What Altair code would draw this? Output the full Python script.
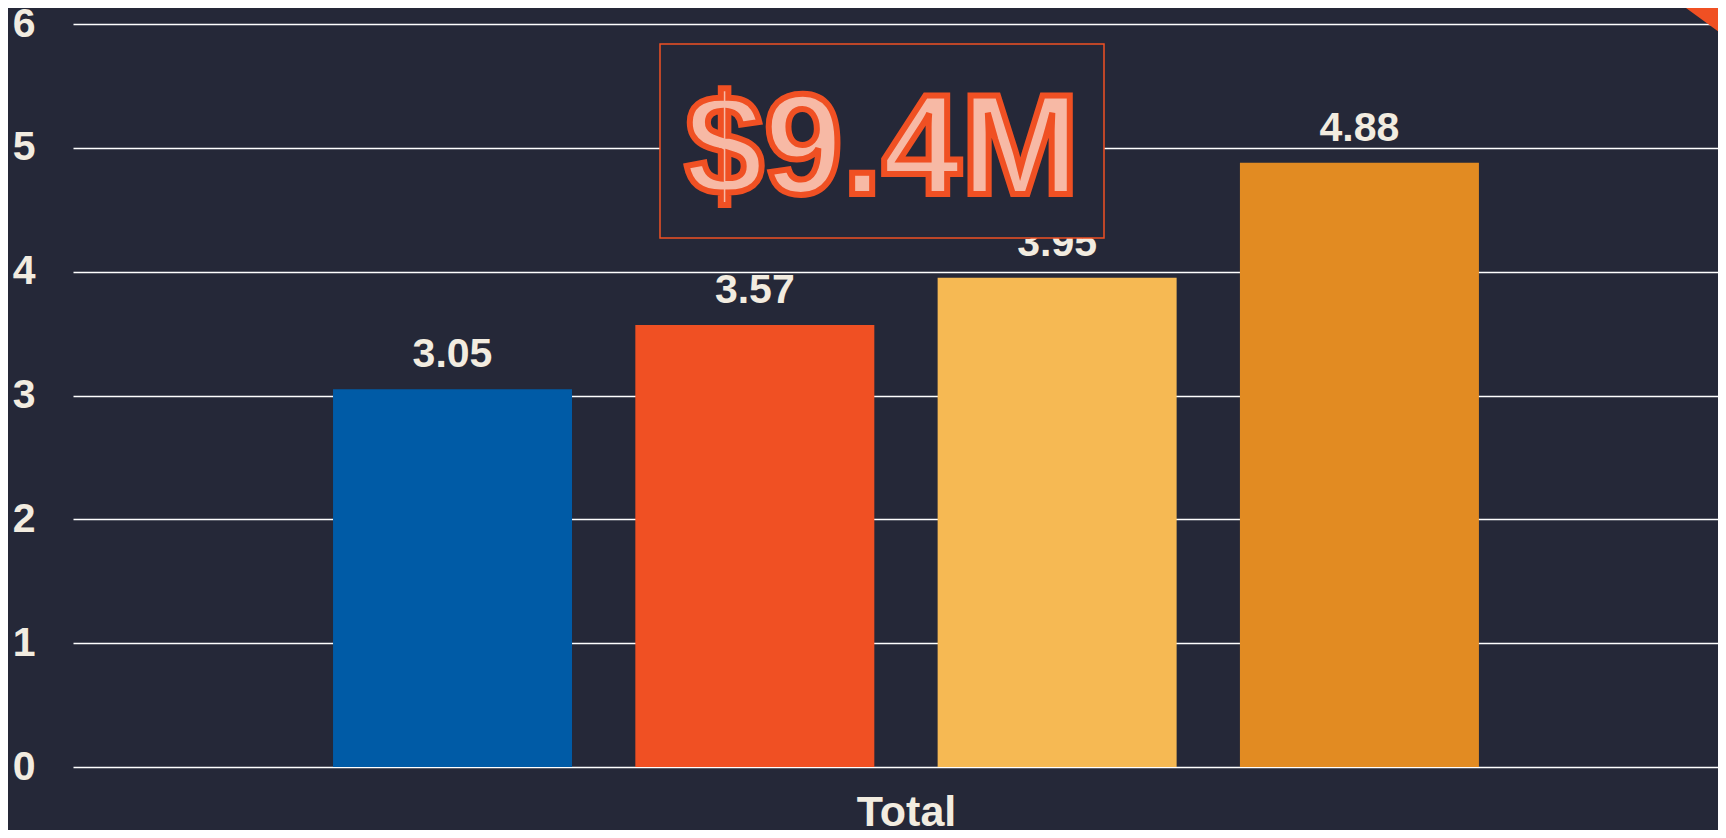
import altair as alt
import pandas as pd

categories = ["Total"]
series = ["Series 1", "Series 2", "Series 3", "Series 4"]
values = [3.05, 3.57, 3.95, 4.88]
colors = ["#005BA6", "#F05023", "#F6B953", "#E28B22"]
y_ticks = [0, 1, 2, 3, 4, 5, 6]
headline = ["$9.4M"]

BG = "#252838"
CREAM = "#F2ECE0"
ORANGE = "#F05023"
FONT = "Liberation Sans"

df = pd.DataFrame({
    "category": categories * len(series),
    "series": series,
    "value": values,
    "label": [f"{v:.2f}" for v in values],
})

x = alt.X(
    "category:N",
    scale=alt.Scale(paddingInner=0, paddingOuter=0, round=False),
    axis=alt.Axis(title=None, labelFontSize=43, labelFontWeight="bold", labelColor=CREAM,
                  labelPadding=58, labelBaseline="alphabetic", labelAngle=0, labelOffset=11,
                  domain=False, ticks=False, grid=False, labelFont=FONT),
)
xo = alt.XOffset("series:N", sort=series,
                 scale=alt.Scale(paddingInner=0.2094, paddingOuter=0.8255, align=0.521,
                                 round=False))
y = alt.Y(
    "value:Q",
    scale=alt.Scale(domain=[0, 6], nice=False),
    axis=alt.Axis(values=y_ticks, title=None, grid=True, gridColor="#FFFFFF", gridWidth=1.5,
                  domain=False, ticks=False, labelFontSize=41, labelFontWeight="bold",
                  labelColor=CREAM, labelPadding=38, labelFont=FONT),
)

bars = alt.Chart(df).mark_bar().encode(
    x=x, xOffset=xo, y=y,
    color=alt.Color("series:N", scale=alt.Scale(domain=series, range=colors), legend=None),
)
labels = alt.Chart(df).mark_text(
    dy=-22, baseline="alphabetic", fontSize=41, fontWeight="bold", color=CREAM, font=FONT
).encode(x=x, xOffset=xo, y=y, text="label:N")

hdf = pd.DataFrame({"t": headline})
box = alt.Chart(hdf).mark_rect(fill=BG, stroke=ORANGE, strokeWidth=1.5).encode(
    x=alt.value(587), x2=alt.value(1031), y=alt.value(20), y2=alt.value(214)
)
head = alt.Chart(hdf).mark_text(
    fontSize=142, fontWeight="bold", fill="#F7B9A5", stroke=ORANGE, strokeWidth=6,
    align="center", baseline="alphabetic", font=FONT
).encode(x=alt.value(809), y=alt.value(170), text="t:N")

tri = alt.Chart(pd.DataFrame({"d": [0]})).mark_point(
    shape="M-0.8,0L0,0.58L0,0Z", filled=True, fill=ORANGE, strokeWidth=0,
    size=6400, opacity=1
).encode(x=alt.value(1645), y=alt.value(-16))

chart = alt.layer(bars, labels, box, head, tri).properties(
    width=1645, height=743,
    background=BG,
    padding={"left": 65, "top": 16, "right": 0, "bottom": 63},
    autosize=alt.AutoSizeParams(type="none"),
).configure_view(stroke=None)

chart.save("out.html", embed_options={"renderer": "svg", "actions": False})
